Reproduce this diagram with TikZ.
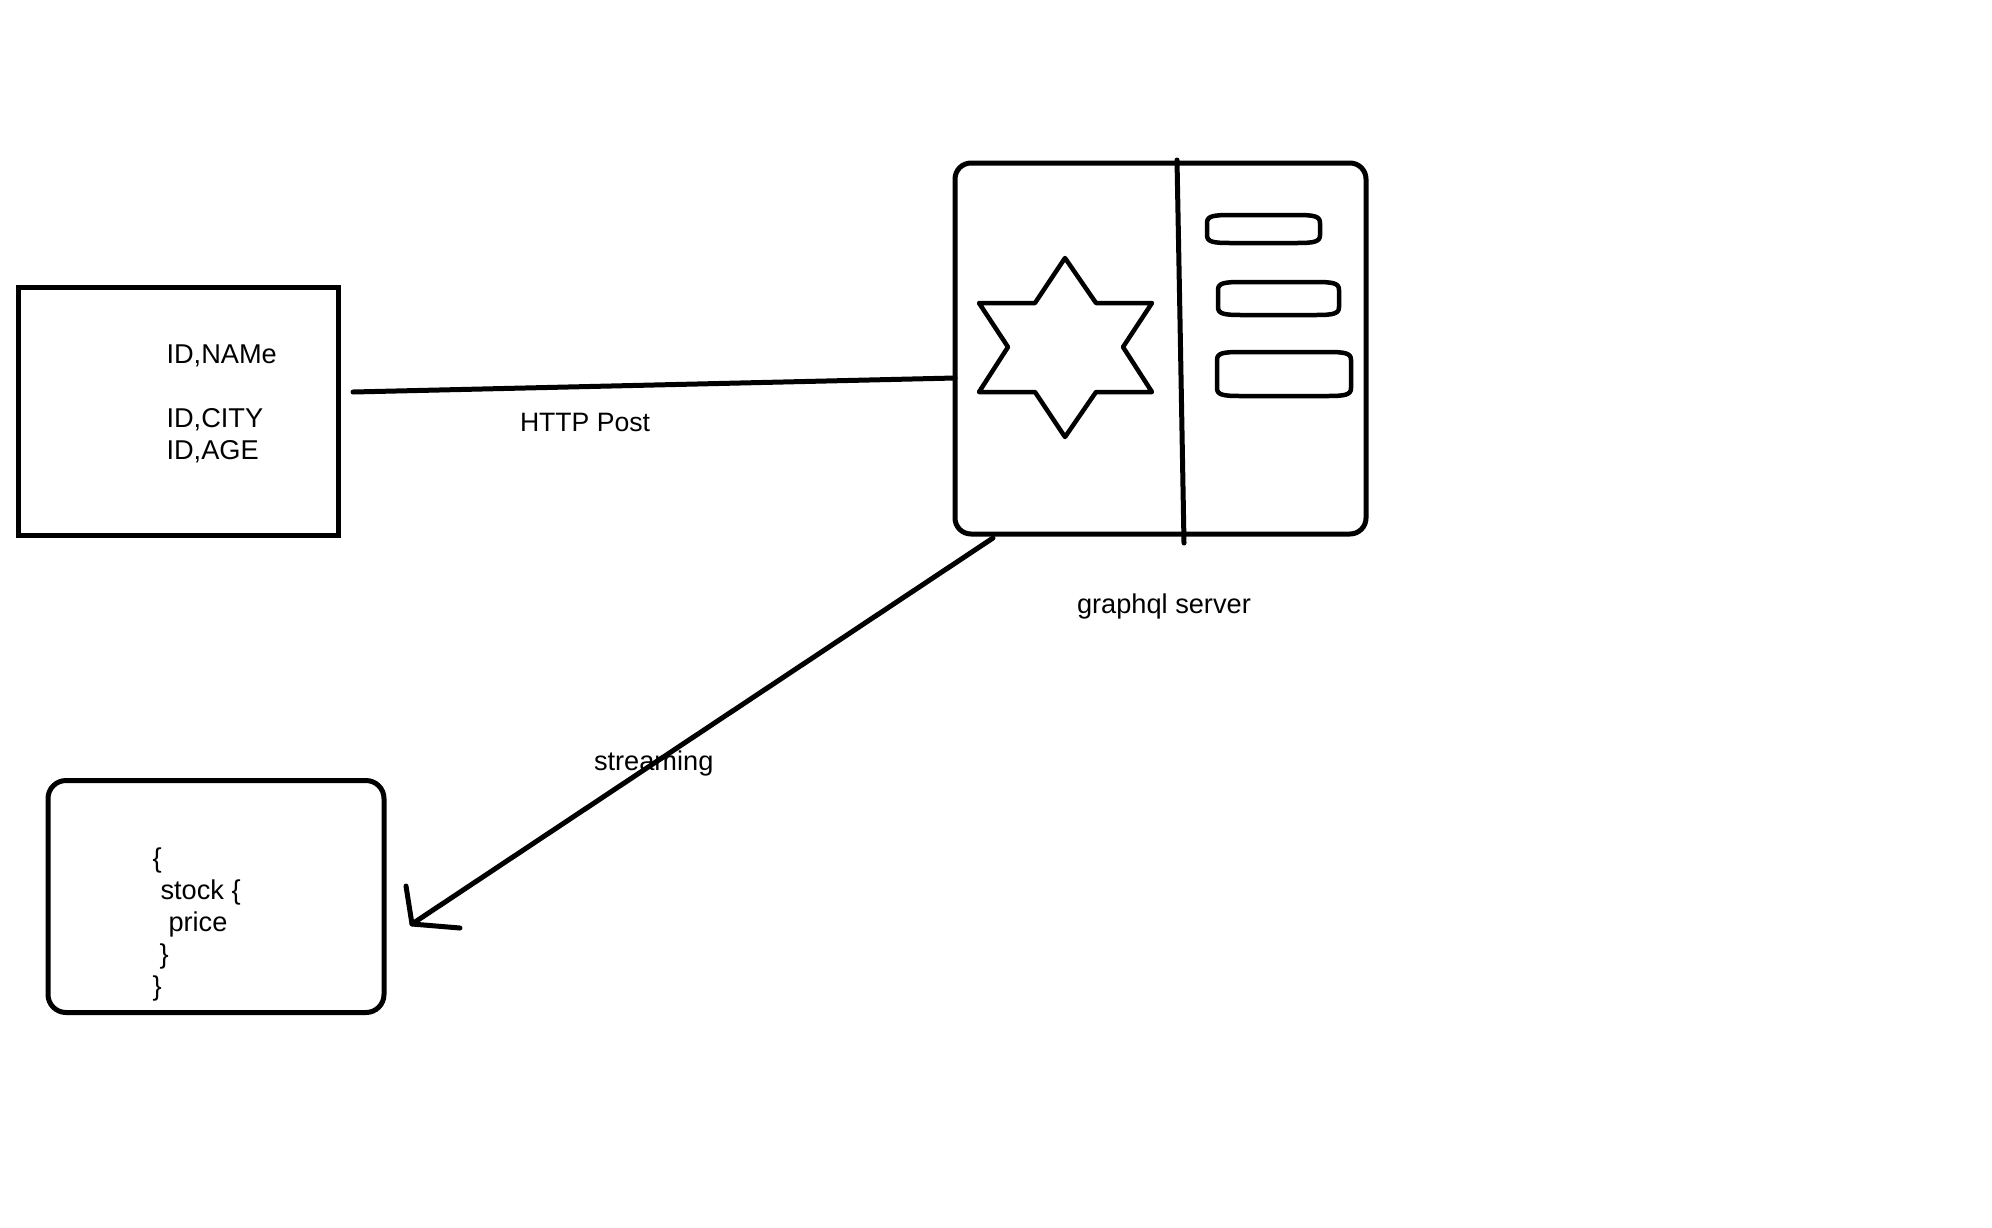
\documentclass[tikz,border=0pt]{standalone}
\usepackage{fontspec}
\setmainfont{Liberation Sans}
\tikzset{
  ink/.style={draw=black,line width=#1,line cap=round,line join=round},
  ink/.default=5pt,
  boxA/.style={draw=black,line width=5pt,miter limit=10,minimum width=320pt,minimum height=248pt,inner sep=0pt,outer sep=0pt},
  boxB/.style={draw=black,line width=5pt,rounded corners=18pt,minimum width=336pt,minimum height=232pt,inner sep=0pt,outer sep=0pt},
  boxC/.style={draw=black,line width=5pt,rounded corners=16pt,minimum width=411pt,minimum height=371pt,inner sep=0pt,outer sep=0pt},
  lab/.style={anchor=base west,inner sep=0pt,outer sep=0pt,font=\fontsize{26.6}{32}\selectfont,text=black},
  labw/.style={lab,font=\fontsize{27.2}{32}\selectfont},
}
\newcommand{\pill}[4]{% x0 y0 x1 y1
  \draw[ink=4.5pt] (#1+24,#2) -- (#3-24,#2) .. controls (#3-6,#2) and (#3,#2+1) .. (#3,#2+8)
    -- (#3,#4-8) .. controls (#3,#4-1) and (#3-6,#4) .. (#3-24,#4)
    -- (#1+24,#4) .. controls (#1+6,#4) and (#1,#4-1) .. (#1,#4-8)
    -- (#1,#2+8) .. controls (#1,#2+1) and (#1+6,#2) .. (#1+24,#2) -- cycle;}
\begin{document}
\begin{tikzpicture}[x=1pt,y=-1pt]
\useasboundingbox (0,0) rectangle (1992,1227);
\fill[white] (0,0) rectangle (1992,1227);

\node[boxA] (client) at (178,411) {};
\node[boxB] (result) at (216,896.5) {};
\node[boxC] (server) at (1160.5,348.5) {};

% divider in server
\coordinate (divtop) at (1177,160);
\coordinate (divmid) at (1180,320);
\coordinate (divbot) at (1184,543);
\draw[ink] (divtop) -- (divmid) -- (divbot);

% star
\draw[ink=4.5pt] (1065,258) -- (1096,303) -- (1152,303) -- (1123,347) -- (1152,392) -- (1096,392)
  -- (1065,437) -- (1035,392) -- (979,392) -- (1008,347) -- (979,303) -- (1035,303) -- cycle;

% small boxes
\pill{1207}{215}{1320}{243}
\pill{1218}{282}{1339}{315}
\pill{1217}{352}{1351}{396}

% connectors
\coordinate (httpstart) at (353,392);
\coordinate (httpend) at (955,378);
\draw[ink] (httpstart) -- (httpend);
\coordinate (streamstart) at (993,538);
\coordinate (streamtip) at (412,924);
\coordinate (barbA) at (406,886);
\coordinate (barbB) at (460,928);
\draw[ink] (streamstart) -- (streamtip);
\draw[ink] (barbA) -- (streamtip) -- (barbB);

% texts
\node[labw] (t1) at (166.5,363) {ID,NAMe};
\node[labw] (t2) at (166.5,427) {ID,CITY};
\node[labw] (t3) at (166.5,459) {ID,AGE};
\node[lab] (t4) at (520,431) {HTTP Post};
\node[labw] (t5) at (1077,613) {graphql server};
\node[labw] (t6) at (594,770) {streaming};
\node[labw] (q1) at (152.5,867.5) {\{};
\node[labw] (q2) at (160.5,899.5) {stock \{};
\node[labw] (q3) at (168.5,931.5) {price};
\node[labw] (q4) at (159.5,963.5) {\}};
\node[labw] (q5) at (152.5,995.5) {\}};
\end{tikzpicture}
\end{document}
